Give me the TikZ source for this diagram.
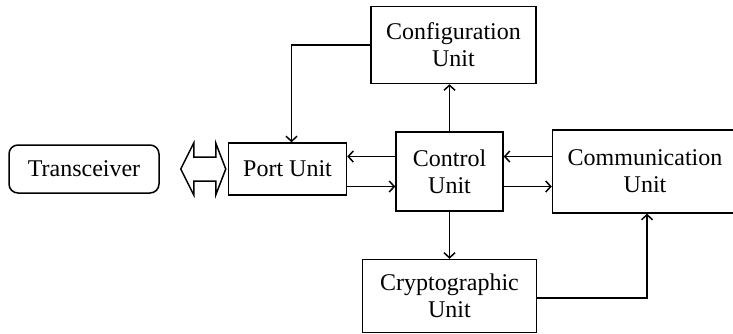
\documentclass[tikz,border=0pt]{standalone}
\usepackage{fontspec}
\setmainfont{Liberation Serif}
\usetikzlibrary{positioning,calc,arrows.meta}

\begin{document}
\begin{tikzpicture}[x=1pt, y=-1pt, line width=1.5pt,
	every node/.style={draw, align=center, inner sep=0pt, font=\fontsize{24}{27}\selectfont},
	>={Straight Barb[length=5pt, width=11pt]}]
	\useasboundingbox (0,0) rectangle (733,333);
	\node[minimum width=107pt, minimum height=79pt] (Control) at (449.5,171.5) {Control\\Unit};
	\node[above=47pt of Control, xshift=4pt, minimum width=165pt, minimum height=77pt] (Config) {Configuration\\Unit};
	\node[left=48pt of Control, yshift=2.5pt, minimum width=118pt, minimum height=52pt] (Port) {Port Unit};
	\node[right=48pt of Control, minimum width=185pt, minimum height=83pt] (Comm) {Communication\\Unit};
	\node[below=47pt of Control, minimum width=174pt, minimum height=73pt] (Crypto) {Cryptographic\\Unit};
	\node[left=68pt of Port, rounded corners=9pt, minimum width=150pt, minimum height=48pt] (Trans) {Transceiver};
	% link to the transceiver
	\draw[shift={(Port.west)}] (-47,0) -- (-34,-26) -- (-34,-12) -- (-12,-12) -- (-12,-26) -- (-2,0)
		-- (-12,26) -- (-12,12) -- (-34,12) -- (-34,26) -- cycle;
	\draw[->] (Config.west) -| ([xshift=4pt]Port.north);
	\draw[->] (Control.north) -- (Control.north |- Config.south);
	\draw[->] ([yshift=15pt]Control.west) -- ([yshift=15pt]Control.west -| Port.east);
	\draw[->] ([yshift=-15pt]Control.west -| Port.east) -- ([yshift=-15pt]Control.west);
	\draw[->] ([yshift=15pt]Comm.west) -- ([yshift=15pt]Comm.west -| Control.east);
	\draw[->] ([yshift=-15pt]Control.east) -- ([yshift=-15pt]Control.east -| Comm.west);
	\draw[->] (Control.south) -- (Crypto.north);
	\draw[->] ([yshift=-2pt]Crypto.east) -| ([xshift=2pt]Comm.south);
\end{tikzpicture}
\end{document}
